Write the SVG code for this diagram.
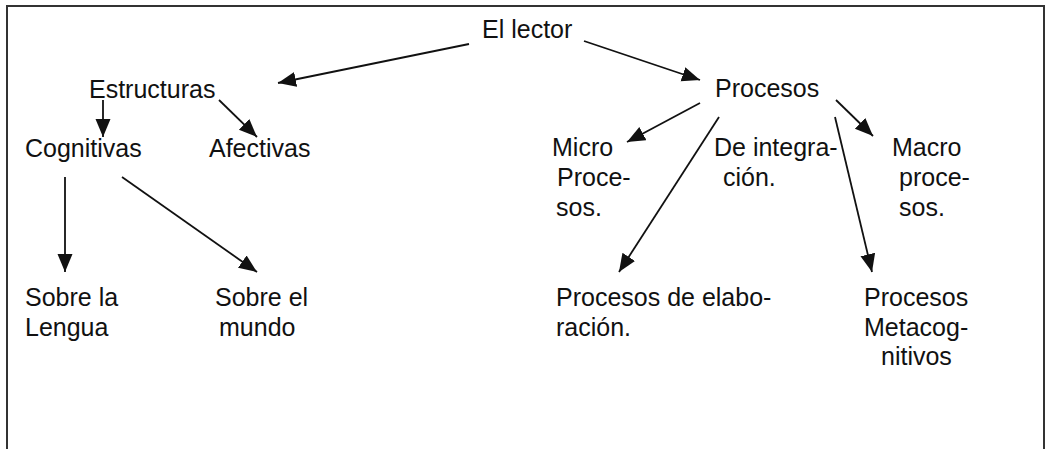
<svg xmlns="http://www.w3.org/2000/svg" width="1048" height="449" viewBox="0 0 1048 449">
<style>
text{font-family:"Liberation Sans",Arial,sans-serif;font-size:25px;fill:#111}
.c{stroke:#111;stroke-width:1.8;fill:none;marker-end:url(#ah)}
.frame{stroke:#333;stroke-width:2;fill:none}
</style>
<defs>
<marker id="ah" markerUnits="userSpaceOnUse" markerWidth="20" markerHeight="16" refX="18" refY="7.5" orient="auto">
<path d="M0,0 L18,7.5 L0,15 z" fill="#111"/>
</marker>
</defs>
<rect width="1048" height="449" fill="#fff"/>
<path class="frame" d="M7,449 V6 H1044 V449"/>
<g id="connectors">
<line class="c" x1="469" y1="44" x2="278" y2="83"/>
<line class="c" x1="584" y1="41" x2="700" y2="80"/>
<line class="c" x1="103" y1="100" x2="103" y2="137"/>
<line class="c" x1="219" y1="100" x2="257" y2="137"/>
<line class="c" x1="65" y1="177" x2="65" y2="272"/>
<line class="c" x1="122" y1="177" x2="257" y2="272"/>
<line class="c" x1="700" y1="103" x2="627" y2="142"/>
<line class="c" x1="719" y1="117" x2="619" y2="272"/>
<line class="c" x1="835" y1="117" x2="872" y2="272"/>
<line class="c" x1="836" y1="100" x2="873" y2="136"/>
</g>
<g id="lector"><text x="482" y="38">El lector</text></g>
<g id="estructuras"><text x="89" y="98">Estructuras</text></g>
<g id="procesos"><text x="715" y="97">Procesos</text></g>
<g id="cognitivas"><text x="25" y="157">Cognitivas</text></g>
<g id="afectivas"><text x="209" y="157">Afectivas</text></g>
<g id="lengua"><text x="25" y="306">Sobre la</text><text x="25" y="336">Lengua</text></g>
<g id="mundo"><text x="215" y="306">Sobre el</text><text x="219" y="336">mundo</text></g>
<g id="micro"><text x="552" y="156">Micro</text><text x="557" y="186">Proce-</text><text x="556" y="216">sos.</text></g>
<g id="integracion"><text x="714" y="156">De integra-</text><text x="723" y="186">ción.</text></g>
<g id="macro"><text x="892" y="156">Macro</text><text x="899" y="186">proce-</text><text x="899" y="216">sos.</text></g>
<g id="elaboracion"><text x="556" y="306">Procesos de elabo-</text><text x="556" y="336">ración.</text></g>
<g id="metacognitivos"><text x="864" y="306">Procesos</text><text x="864" y="336">Metacog-</text><text x="881" y="365">nitivos</text></g>
</svg>
